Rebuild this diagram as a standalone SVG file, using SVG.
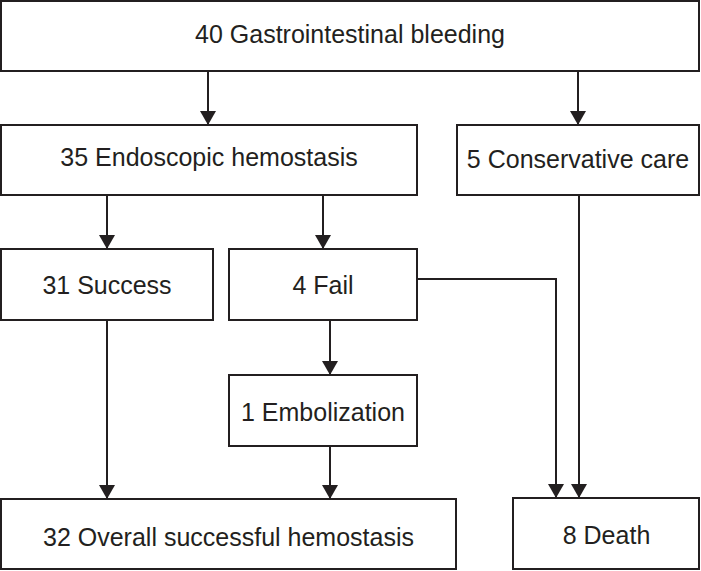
<svg xmlns="http://www.w3.org/2000/svg" width="701" height="571" viewBox="0 0 701 571">
<style>
.box{fill:#fff;stroke:#231f20;stroke-width:2}
.lbl{font-family:"Liberation Sans",Arial,sans-serif;font-size:25px;fill:#231f20;text-anchor:middle}
.con{fill:none;stroke:#231f20;stroke-width:2;marker-end:url(#ah)}
</style>
<defs>
<marker id="ah" markerUnits="userSpaceOnUse" viewBox="0 0 14 16" refX="14" refY="8" markerWidth="14" markerHeight="16" orient="auto">
<path d="M0,0 L14,8 L0,16 Z" fill="#231f20"/>
</marker>
</defs>
<rect width="701" height="571" fill="#fff"/>
<g id="connectors">
<path class="con" d="M208,71 V125"/>
<path class="con" d="M578,71 V125"/>
<path class="con" d="M107,195 V249"/>
<path class="con" d="M323,195 V249"/>
<path class="con" d="M330,320 V375"/>
<path class="con" d="M107,320 V499"/>
<path class="con" d="M330,446 V499"/>
<path class="con" d="M417,279 H556 V498"/>
<path class="con" d="M579,195 V498"/>
</g>
<g id="n-bleeding"><rect class="box" x="1" y="1" width="698" height="70"/><text class="lbl" x="350" y="43">40 Gastrointestinal bleeding</text></g>
<g id="n-endoscopic"><rect class="box" x="1" y="125" width="416" height="70"/><text class="lbl" x="209" y="166">35 Endoscopic hemostasis</text></g>
<g id="n-conservative"><rect class="box" x="457" y="125" width="242" height="70"/><text class="lbl" x="578" y="168">5 Conservative care</text></g>
<g id="n-success"><rect class="box" x="1" y="249" width="212" height="71"/><text class="lbl" x="107" y="294">31 Success</text></g>
<g id="n-fail"><rect class="box" x="229" y="249" width="188" height="71"/><text class="lbl" x="323" y="294">4 Fail</text></g>
<g id="n-embolization"><rect class="box" x="229" y="375" width="188" height="71"/><text class="lbl" x="323" y="421">1 Embolization</text></g>
<g id="n-overall"><rect class="box" x="1" y="499" width="455" height="70"/><text class="lbl" x="228.5" y="546">32 Overall successful hemostasis</text></g>
<g id="n-death"><rect class="box" x="513" y="498" width="186" height="71"/><text class="lbl" x="606.5" y="544">8 Death</text></g>
</svg>
